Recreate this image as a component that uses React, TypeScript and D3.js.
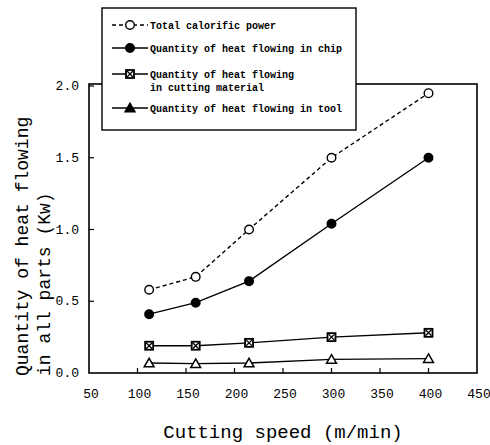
import React, { useEffect, useRef } from "react";
import * as d3 from "d3";

// cutting speed (m/min)
const speeds = [112, 160, 215, 300, 400];
const totalPower = [0.58, 0.67, 1.0, 1.5, 1.95];
const chipHeat = [0.41, 0.49, 0.64, 1.04, 1.5];
const materialHeat = [0.19, 0.19, 0.21, 0.25, 0.28];
const toolHeat = [0.07, 0.065, 0.07, 0.095, 0.1];

const xTicks = [50, 100, 150, 200, 250, 300, 350, 400, 450];
const yTicks = [0, 0.5, 1.0, 1.5, 2.0];

const legendLabels = [
  ["Total calorific power"],
  ["Quantity of heat flowing in chip"],
  ["Quantity of heat flowing", "in cutting material"],
  ["Quantity of heat flowing in tool"]
];

const W = 490;
const H = 445;

const App = () => {
  const ref = useRef<SVGSVGElement>(null);

  useEffect(() => {
    const svg = d3.select(ref.current);
    svg.selectAll("*").remove();

    const x = d3.scaleLinear().domain([50, 450]).range([89, 477]);
    const y = d3.scaleLinear().domain([0, 2]).range([373, 86]);

    const mono = "'Liberation Mono', 'DejaVu Sans Mono', monospace";

    // frame
    svg
      .append("rect")
      .attr("x", x(50))
      .attr("y", 84)
      .attr("width", x(450) - x(50))
      .attr("height", y(0) - 84)
      .attr("fill", "none")
      .attr("stroke", "#000")
      .attr("stroke-width", 1.6);

    // ticks (inward)
    svg
      .selectAll(".xt")
      .data(xTicks.slice(1, -1))
      .enter()
      .append("line")
      .attr("x1", d => x(d))
      .attr("x2", d => x(d))
      .attr("y1", y(0))
      .attr("y2", y(0) - 5)
      .attr("stroke", "#000")
      .attr("stroke-width", 1.2);

    svg
      .selectAll(".yt")
      .data(yTicks.slice(1))
      .enter()
      .append("line")
      .attr("x1", x(50))
      .attr("x2", x(50) + 5)
      .attr("y1", d => y(d))
      .attr("y2", d => y(d))
      .attr("stroke", "#000")
      .attr("stroke-width", 1.2);

    // tick labels
    svg
      .selectAll(".xl")
      .data(xTicks)
      .enter()
      .append("text")
      .attr("x", d => x(d) + 2)
      .attr("y", 398)
      .attr("text-anchor", "middle")
      .attr("font-family", mono)
      .attr("font-size", 13)
      .text(d => d);

    svg
      .selectAll(".yl")
      .data(yTicks)
      .enter()
      .append("text")
      .attr("x", 79)
      .attr("y", d => y(d) + 4)
      .attr("text-anchor", "end")
      .attr("font-family", mono)
      .attr("font-size", 13)
      .text(d => d3.format(".1f")(d));

    // axis titles
    svg
      .append("text")
      .attr("x", (x(50) + x(450)) / 2)
      .attr("y", 438)
      .attr("text-anchor", "middle")
      .attr("font-family", mono)
      .attr("font-size", 19)
      .text("Cutting speed (m/min)");

    const yTitle = svg
      .append("text")
      .attr("transform", "translate(0,376) rotate(-90)")
      .attr("font-family", mono)
      .attr("font-size", 18);
    yTitle.append("tspan").attr("x", 0).attr("y", 28).text("Quantity of heat flowing");
    yTitle.append("tspan").attr("x", 0).attr("y", 50).text("in all parts (Kw)");

    const series = [
      { values: totalPower, dash: "4,3", marker: "circleOpen" },
      { values: chipHeat, dash: null, marker: "circleFilled" },
      { values: materialHeat, dash: null, marker: "square" },
      { values: toolHeat, dash: null, marker: "triangle" }
    ];

    const line = d3
      .line<number>()
      .x((d, i) => x(speeds[i]))
      .y(d => y(d));

    const drawMarker = (g, kind, cx, cy, legend) => {
      if (kind === "circleOpen" || kind === "circleFilled") {
        g.append("circle")
          .attr("cx", cx)
          .attr("cy", cy)
          .attr("r", 4.3)
          .attr("fill", kind === "circleFilled" ? "#000" : "#fff")
          .attr("stroke", "#000")
          .attr("stroke-width", 1.4);
      } else if (kind === "square") {
        g.append("rect")
          .attr("x", cx - 4)
          .attr("y", cy - 4)
          .attr("width", 8)
          .attr("height", 8)
          .attr("fill", "#fff")
          .attr("stroke", "#000")
          .attr("stroke-width", 1.8);
        g.append("path")
          .attr("d", `M${cx - 3},${cy - 3}L${cx + 3},${cy + 3}M${cx + 3},${cy - 3}L${cx - 3},${cy + 3}`)
          .attr("stroke", "#000")
          .attr("stroke-width", 1.3);
      } else {
        g.append("path")
          .attr("transform", `translate(${cx},${cy + 1})`)
          .attr("d", d3.symbol(d3.symbolTriangle, 42)())
          .attr("fill", legend ? "#000" : "#fff")
          .attr("stroke", "#000")
          .attr("stroke-width", 1.5);
      }
    };

    const plot = svg.append("g");
    series.forEach(s => {
      plot
        .append("path")
        .attr("d", line(s.values))
        .attr("fill", "none")
        .attr("stroke", "#000")
        .attr("stroke-width", 1.4)
        .attr("stroke-dasharray", s.dash);
      s.values.forEach((v, i) => drawMarker(plot, s.marker, x(speeds[i]), y(v), false));
    });

    // legend box drawn over the frame
    const lg = svg.append("g");
    lg.append("rect")
      .attr("x", 102)
      .attr("y", 8)
      .attr("width", 254)
      .attr("height", 122)
      .attr("fill", "#fff")
      .attr("stroke", "#000")
      .attr("stroke-width", 1.4);

    const rowY = [25, 48, 74, 108];
    series.forEach((s, i) => {
      const ry = rowY[i];
      lg.append("line")
        .attr("x1", 112)
        .attr("x2", 148)
        .attr("y1", ry)
        .attr("y2", ry)
        .attr("stroke", "#000")
        .attr("stroke-width", 1.4)
        .attr("stroke-dasharray", s.dash);
      drawMarker(lg, s.marker, 130, ry, true);
      legendLabels[i].forEach((t, j) => {
        lg.append("text")
          .attr("x", 150)
          .attr("y", ry + 3.5 + j * 13)
          .attr("font-family", mono)
          .attr("font-weight", "bold")
          .attr("font-size", 10)
          .text(t);
      });
    });
  }, []);

  return (
    <svg
      ref={ref}
      width={W}
      height={H}
      style={{ position: "absolute", left: 0, top: 0, background: "#fff" }}
    />
  );
};

export default App;
